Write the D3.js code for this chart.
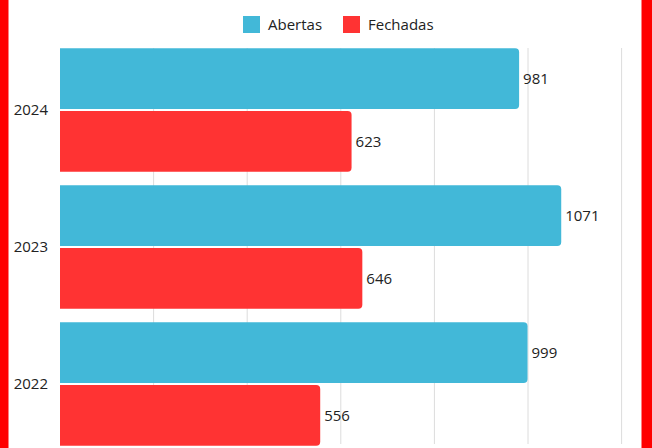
<!DOCTYPE html>
<html><head><meta charset="utf-8">
<script src="https://cdn.jsdelivr.net/npm/d3@7"></script>
<style>
html,body{margin:0;padding:0;background:#fff;overflow:hidden}
svg{display:block;font-family:"Open Sans",sans-serif}
</style></head><body>
<svg id="c" width="652" height="448"></svg>
<script>
const categories = ["2024", "2023", "2022"];
const seriesNames = ["Abertas", "Fechadas"];
const abertas = [981, 1071, 999];
const fechadas = [623, 646, 556];
const xTicks = [0, 200, 400, 600, 800, 1000, 1200];
const colors = ["#42B8D8", "#FF3333"];

const svg = d3.select("#c");
const W = 652, H = 448;
const plot = {left: 60, right: 621.6, top: 41.5, bottom: 452.5};

const x = d3.scaleLinear().domain([0, 1200]).range([plot.left, plot.right]);
const y = d3.scaleBand().domain(categories).range([plot.top, plot.bottom]).paddingInner(0.1).paddingOuter(0.05);
const inner = d3.scaleBand().domain(seriesNames).range([0, y.bandwidth()]).paddingInner(0.035);

// gridlines
svg.append("g").selectAll("line").data(xTicks.slice(1)).join("line")
  .attr("x1", d => x(d)).attr("x2", d => x(d))
  .attr("y1", 48).attr("y2", 444)
  .attr("stroke", "#dcdcdc").attr("stroke-width", 1);

const data = categories.map((c, i) => ({cat: c, vals: [abertas[i], fechadas[i]]}));

function barPath(x0, x1, y0, h, r) {
  r = Math.min(r, (x1 - x0), h / 2);
  return `M${x0},${y0}H${x1 - r}Q${x1},${y0} ${x1},${y0 + r}V${y0 + h - r}Q${x1},${y0 + h} ${x1 - r},${y0 + h}H${x0}Z`;
}

const groups = svg.append("g").selectAll("g").data(data).join("g")
  .attr("transform", d => `translate(0,${y(d.cat)})`);

groups.each(function(d) {
  const g = d3.select(this);
  d.vals.forEach((v, j) => {
    const yy = inner(seriesNames[j]);
    g.append("path")
      .attr("d", barPath(x(0), x(v), yy, inner.bandwidth(), 4))
      .attr("fill", colors[j]);
    g.append("text")
      .attr("x", x(v) + 4).attr("y", yy + inner.bandwidth() / 2)
      .attr("dy", "0.35em").attr("font-size", 15).attr("fill", "#222")
      .text(v);
  });
});

// y axis labels
svg.append("g").selectAll("text").data(categories).join("text")
  .attr("x", 48).attr("y", d => y(d) + y.bandwidth() / 2)
  .attr("dy", "0.35em").attr("text-anchor", "end")
  .attr("font-size", 15).attr("fill", "#222").text(d => d);

// legend
const legend = svg.append("g");
const legX = [243, 343];
seriesNames.forEach((s, i) => {
  legend.append("rect").attr("x", legX[i]).attr("y", 16).attr("width", 17).attr("height", 17).attr("fill", colors[i]);
  legend.append("text").attr("x", legX[i] + 25).attr("y", 24.5).attr("dy", "0.35em")
    .attr("font-size", 15).attr("fill", "#222").text(s);
});

// red frame
svg.append("rect").attr("x", 0).attr("y", 0).attr("width", 8.5).attr("height", H).attr("fill", "#FF0000");
svg.append("rect").attr("x", 641.5).attr("y", 0).attr("width", 10.5).attr("height", H).attr("fill", "#FF0000");
</script>
</body></html>
